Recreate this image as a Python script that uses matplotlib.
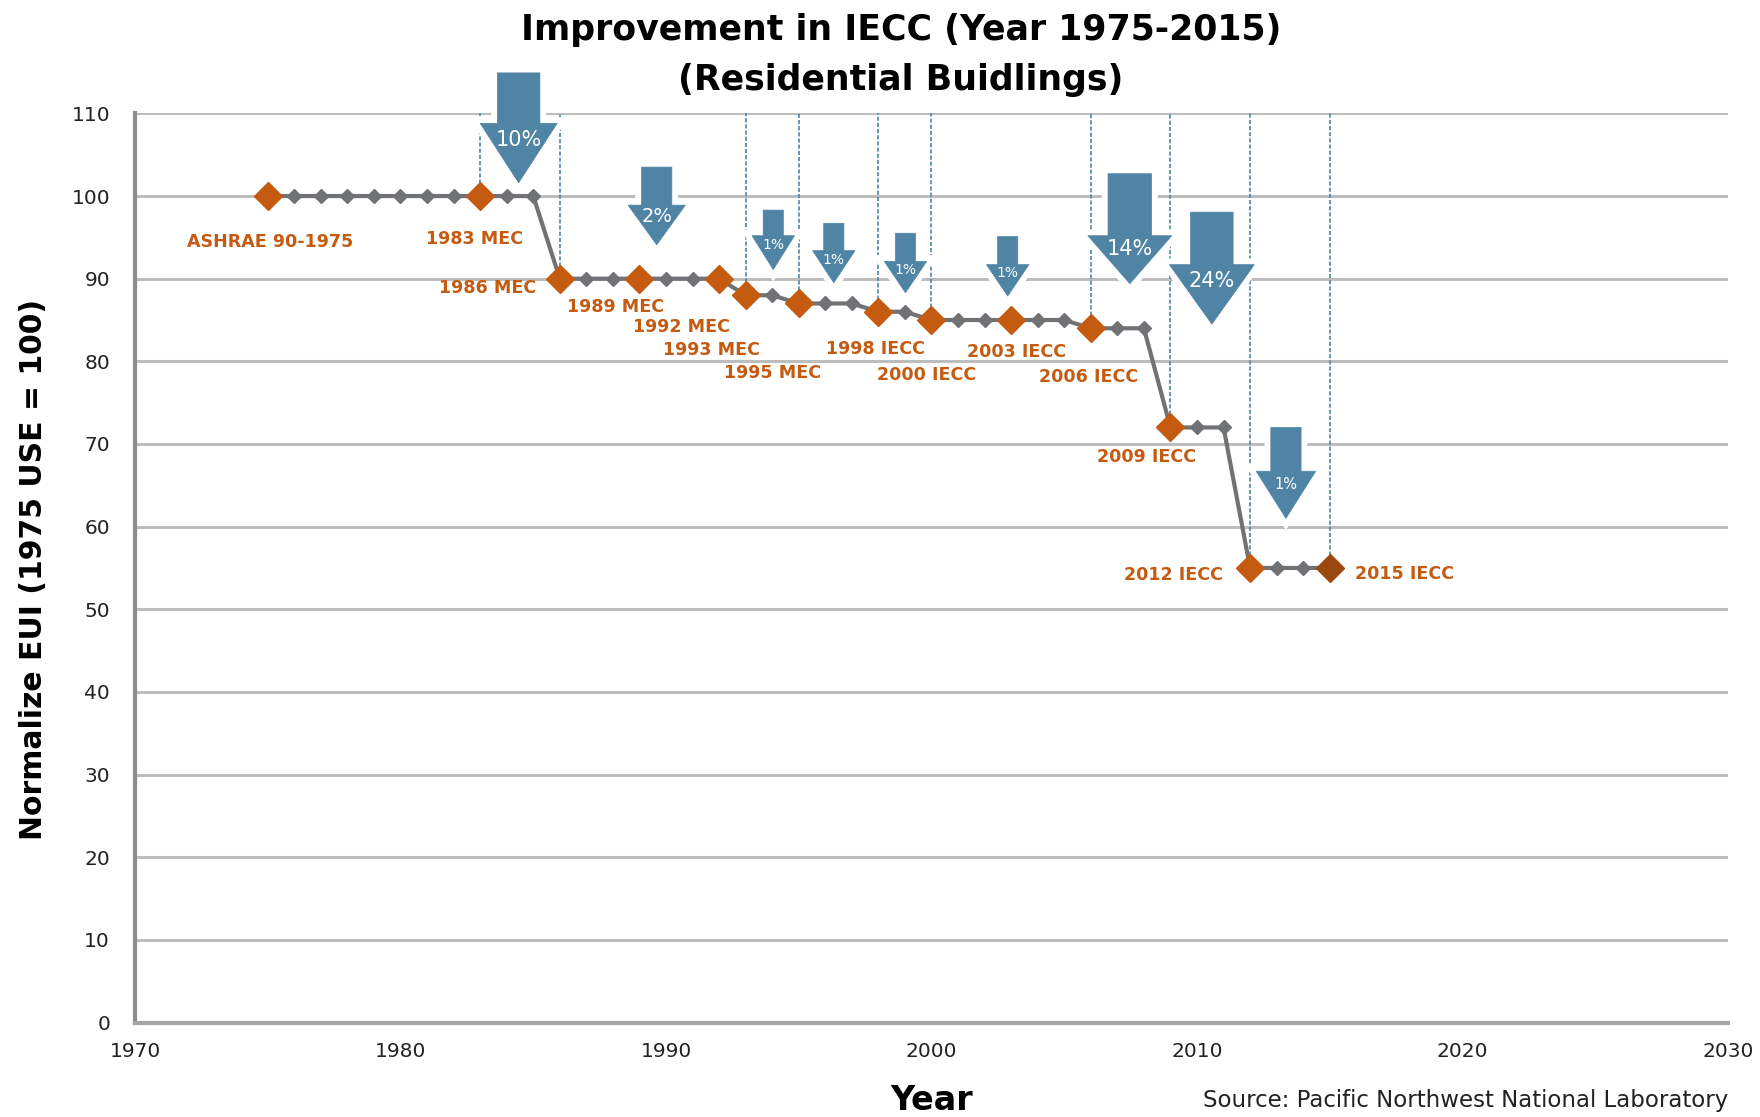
import matplotlib
matplotlib.use("Agg")
import matplotlib.pyplot as plt
from matplotlib.patches import Polygon
from matplotlib import font_manager

# ---------------- data ----------------
years = [1975, 1976, 1977, 1978, 1979, 1980, 1981, 1982, 1983, 1984, 1985,
         1986, 1987, 1988, 1989, 1990, 1991, 1992, 1993, 1994, 1995, 1996,
         1997, 1998, 1999, 2000, 2001, 2002, 2003, 2004, 2005, 2006, 2007,
         2008, 2009, 2010, 2011, 2012, 2013, 2014, 2015]
eui = [100, 100, 100, 100, 100, 100, 100, 100, 100, 100, 100,
       90, 90, 90, 90, 90, 90, 90, 88, 88, 87, 87,
       87, 86, 86, 85, 85, 85, 85, 85, 85, 84, 84,
       84, 72, 72, 72, 55, 55, 55, 55]

code_years = [1975, 1983, 1986, 1989, 1992, 1993, 1995, 1998, 2000, 2003,
              2006, 2009, 2012]
code_eui = [100, 100, 90, 90, 90, 88, 87, 86, 85, 85, 84, 72, 55]
code_labels = ["ASHRAE 90-1975", "1983 MEC", "1986 MEC", "1989 MEC", "1992 MEC",
               "1993 MEC", "1995 MEC", "1998 IECC", "2000 IECC", "2003 IECC",
               "2006 IECC", "2009 IECC", "2012 IECC"]
last_year = [2015]
last_eui = [55]
last_label = ["2015 IECC"]

dash_years = [1983, 1986, 1993, 1995, 1998, 2000, 2006, 2009, 2012, 2015]
dash_eui = [100, 90, 88, 87, 86, 85, 84, 72, 55, 55]

arrow_pcts = ["10%", "2%", "1%", "1%", "1%", "1%", "14%", "24%", "1%"]

x_ticks = [1970, 1980, 1990, 2000, 2010, 2020, 2030]
y_ticks = [0, 10, 20, 30, 40, 50, 60, 70, 80, 90, 100, 110]

# ---------------- layout / style ----------------
ORANGE = "#c55a11"
GRAY = "#707276"
BLUE = "#4f84a5"
GRID = "#bdbdbd"

names = {f.name for f in font_manager.fontManager.ttflist}
narrow = "Liberation Sans Narrow" if "Liberation Sans Narrow" in names else None

fig = plt.figure(figsize=(17.6, 11.17), dpi=100)
ax = fig.add_axes([135 / 1760, 1 - 1022.5 / 1117, (1728 - 135) / 1760, (1022.5 - 113.4) / 1117])
ax.set_xlim(1970, 2030)
ax.set_ylim(0, 110)

ax.set_yticks(y_ticks)
ax.set_xticks(x_ticks)
ax.yaxis.grid(True, color=GRID, linewidth=2.2)
ax.set_axisbelow(True)
for s in ["top", "right"]:
    ax.spines[s].set_visible(False)
ax.spines["left"].set_color("#8c8c8c")
ax.spines["left"].set_linewidth(3)
ax.spines["bottom"].set_color("#a6a6a6")
ax.spines["bottom"].set_linewidth(3)
ax.tick_params(axis="both", length=0, labelsize=14.5, colors="#222222")
ax.tick_params(axis="y", pad=18)
ax.tick_params(axis="x", pad=14)

# dashed vertical guide lines
for yr, v in zip(dash_years, dash_eui):
    ax.plot([yr, yr], [v, 110], color=BLUE, linewidth=1.2,
            linestyle=(0, (2.5, 1.2)), zorder=1.5, clip_on=False)

# arrows: (center x, shaft half width, head half width, top y, head y, tip y)
arrow_geom = [
    (1984.45, 0.80, 1.45, 114.9, 108.8, 101.6),
    (1989.65, 0.57, 1.08, 103.5, 98.9, 94.1),
    (1994.04, 0.38, 0.80, 98.3, 95.2, 91.1),
    (1996.32, 0.38, 0.80, 96.7, 93.4, 89.5),
    (1999.02, 0.38, 0.80, 95.5, 92.1, 88.3),
    (2002.87, 0.38, 0.80, 95.1, 91.7, 87.9),
    (2007.47, 0.82, 1.58, 102.7, 95.2, 89.4),
    (2010.56, 0.80, 1.60, 98.05, 91.7, 84.5),
    (2013.35, 0.57, 1.12, 72.0, 66.7, 61.0),
]
arrow_fs = [15, 14, 10, 10, 10, 10, 15, 15, 10.5]
for (cx, sw, hw, ty, hy, tip), pct, fs in zip(arrow_geom, arrow_pcts, arrow_fs):
    pts = [(cx - sw, ty), (cx + sw, ty), (cx + sw, hy), (cx + hw, hy),
           (cx, tip), (cx - hw, hy), (cx - sw, hy)]
    ax.add_patch(Polygon(pts, closed=True, facecolor="white", edgecolor="white",
                         linewidth=9, joinstyle="miter", zorder=2, clip_on=False))
    ax.add_patch(Polygon(pts, closed=True, facecolor=BLUE, edgecolor=BLUE,
                         linewidth=0.5, zorder=2.1, clip_on=False))
    ty_text = hy - (hy - tip) * 0.28
    ax.text(cx, ty_text, pct, color="white", fontsize=fs, ha="center",
            va="center", zorder=2.2)

# series
ax.plot(years, eui, color=GRAY, linewidth=3, marker="D", markersize=7.6,
        markerfacecolor=GRAY, markeredgecolor=GRAY, zorder=3, clip_on=False)
ax.plot(code_years, code_eui, linestyle="none", marker="D", markersize=14,
        color=ORANGE, zorder=4, clip_on=False)
ax.plot(last_year, last_eui, linestyle="none", marker="D", markersize=14,
        color="#9b4710", zorder=4, clip_on=False)

# code labels
label_pos = [
    (1975.1, 94.4, "center"), (1982.8, 94.8, "center"), (1985.1, 88.9, "right"),
    (1988.1, 86.6, "center"), (1990.6, 84.2, "center"), (1991.7, 81.35, "center"),
    (1994.0, 78.6, "center"), (1997.9, 81.5, "center"), (1999.8, 78.4, "center"),
    (2003.2, 81.1, "center"), (2005.9, 78.1, "center"), (2008.1, 68.4, "center"),
    (2009.1, 54.2, "center"),
]
for (lx, ly, ha), lab in zip(label_pos, code_labels):
    ax.text(lx, ly, lab, color=ORANGE, fontsize=12.6, fontweight="bold",
            ha=ha, va="center", zorder=5)
ax.text(2017.8, 54.3, last_label[0], color=ORANGE, fontsize=12.6,
        fontweight="bold", ha="center", va="center", zorder=5)

# titles and axis labels
fig.text(901 / 1760, 1 - 30 / 1117, "Improvement in IECC (Year 1975-2015)",
         ha="center", va="center", fontsize=25, fontweight="bold")
fig.text(901 / 1760, 1 - 80 / 1117, "(Residential Buidlings)",
         ha="center", va="center", fontsize=25, fontweight="bold")
if narrow:
    fig.text(34 / 1760, 1 - 569 / 1117, "Normalize EUI (1975 USE = 100)",
             rotation=90, ha="center", va="center", fontsize=30,
             fontweight="bold", family=[narrow, "DejaVu Sans"])
else:
    fig.text(34 / 1760, 1 - 569 / 1117, "Normalize EUI (1975 USE = 100)",
             rotation=90, ha="center", va="center", fontsize=21.5,
             fontweight="bold")
fig.text(932 / 1760, 1 - 1100 / 1117, "Year", ha="center", va="center",
         fontsize=24, fontweight="bold")
fig.text(1728 / 1760, 1 - 1100 / 1117,
         "Source: Pacific Northwest National Laboratory",
         ha="right", va="center", fontsize=16.5, color="#222222")

fig.savefig("out.png", dpi=100)
